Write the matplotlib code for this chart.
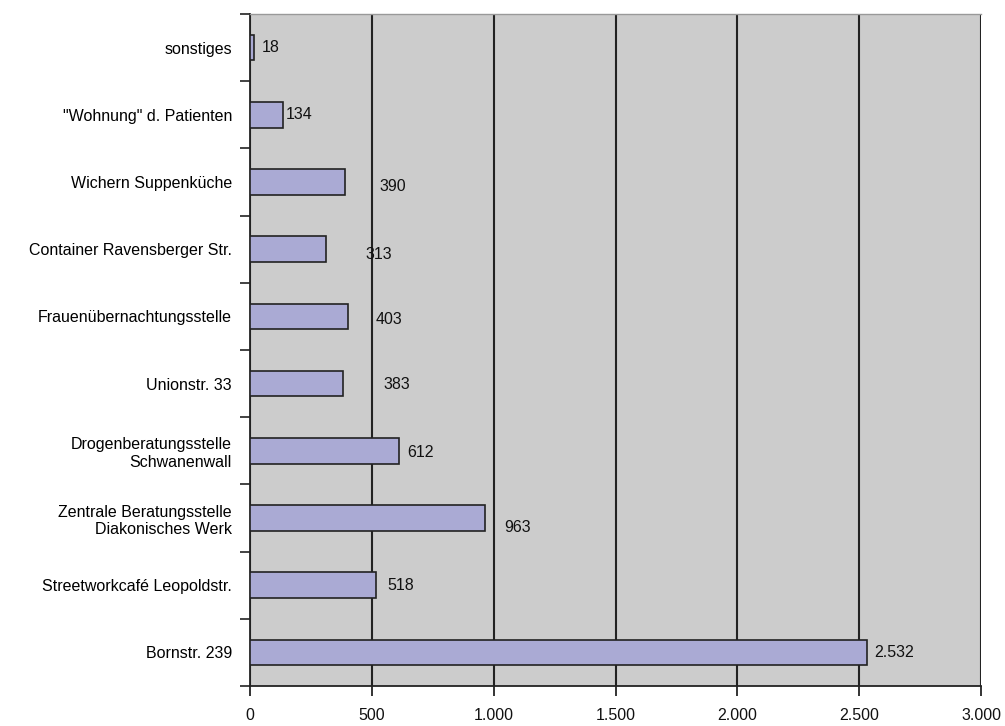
import matplotlib.pyplot as plt
import numpy as np
from matplotlib.ticker import FuncFormatter

plt.rcParams['font.family'] = ['Liberation Sans Narrow', 'Liberation Sans', 'DejaVu Sans']

# top to bottom, as in the chart
categories = ['sonstiges', '"Wohnung" d. Patienten', 'Wichern Suppenküche',
              'Container Ravensberger Str.', 'Frauenübernachtungsstelle',
              'Unionstr. 33', 'Drogenberatungsstelle\nSchwanenwall',
              'Zentrale Beratungsstelle\nDiakonisches Werk',
              'Streetworkcafé Leopoldstr.', 'Bornstr. 239']
values = [18, 134, 390, 313, 403, 383, 612, 963, 518, 2532]
value_labels = ['18', '134', '390', '313', '403', '383', '612', '963', '518', '2.532']

# label offsets in points (the original places some labels loosely)
label_dx = [5, 2, 25, 28, 20, 29, 6, 14, 8, 5]
label_dy = [0, 0, -3, -4, -2, -1, -1, -7, 0, 0]


def de_thousands(x, pos):
  return '{:,.0f}'.format(x).replace(',', '.')


def main():
  fig = plt.figure(figsize=(10.05, 7.26), dpi=100)
  ax = fig.add_axes([0.2488, 0.0551, 0.9761 - 0.2488, 0.9807 - 0.0551])
  ax.set_facecolor('#cccccc')

  y = np.arange(len(categories))
  ax.barh(y, values, height=0.38, color='#aaaad4', edgecolor='#222222', linewidth=1.2, zorder=3)

  for yi, v, lab, dx, dy in zip(y, values, value_labels, label_dx, label_dy):
    ax.annotate(lab, (v, yi), xytext=(dx, dy), textcoords='offset points',
                ha='left', va='center', fontsize=11.5, color='#111111')

  ax.set_xlim(0, 3000)
  ax.set_ylim(len(categories) - 0.5, -0.5)

  ax.set_xticks(np.arange(0, 3001, 500))
  ax.xaxis.set_major_formatter(FuncFormatter(de_thousands))
  ax.tick_params(axis='x', length=7, width=1.2, pad=9, labelsize=11.5, colors='#111111')

  ax.set_yticks(np.arange(len(categories) + 1) - 0.5)
  ax.set_yticklabels([])
  ax.set_yticks(y, minor=True)
  ax.set_yticklabels(categories, minor=True, ha='right', fontsize=11.5)
  ax.tick_params(axis='y', which='major', length=7, width=1.2, color='#222222')
  ax.tick_params(axis='y', which='minor', length=0, pad=13)

  ax.grid(axis='x', color='#222222', linewidth=1.5, zorder=1)
  ax.set_axisbelow(True)

  for side in ['left', 'bottom']:
    ax.spines[side].set_color('#222222')
    ax.spines[side].set_linewidth(1.3)
  ax.spines['top'].set_color('#999999')
  ax.spines['top'].set_linewidth(1.0)
  ax.spines['right'].set_visible(False)

  fig.savefig('out.png', dpi=100)
  plt.close()


if __name__ == '__main__':
  main()
